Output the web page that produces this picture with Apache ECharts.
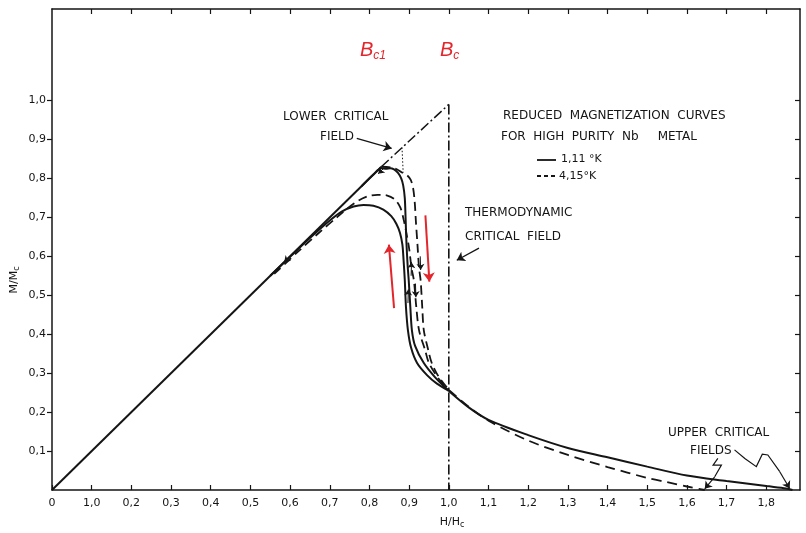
<!DOCTYPE html>
<html><head><meta charset="utf-8">
<script src="https://cdn.jsdelivr.net/npm/echarts@6/dist/echarts.min.js"></script>
<style>html,body{margin:0;padding:0;background:#fff}#c{width:806px;height:533px}</style>
</head><body><div id="c"></div>
<script>
// ---- tick values / labels ----
const xTickValues = [0,0.1,0.2,0.3,0.4,0.5,0.6,0.7,0.8,0.9,1.0,1.1,1.2,1.3,1.4,1.5,1.6,1.7,1.8];
const xTickLabels = ['0','1,0','0,2','0,3','0,4','0,5','0,6','0,7','0,8','0,9','1,0','1,1','1,2','1,3','1,4','1,5','1,6','1,7','1,8'];
const yTickValues = [0.1,0.2,0.3,0.4,0.5,0.6,0.7,0.8,0.9,1.0];
const yTickLabels = ['0,1','0,2','0,3','0,4','0,5','0,6','0,7','0,8','0,9','1,0'];

// ---- Meissner line M = H (solid part) ----
const diagonal = [[0,0],[0.83,0.83]];
// ---- curves: 1.11 K (solid) ----
const solidOuter = [[0.78,0.78],[0.81,0.81],[0.83,0.826],[0.842,0.825],[0.852,0.826],[0.862,0.823],[0.872,0.814],[0.88,0.8],[0.885,0.782],[0.889,0.75],[0.891,0.7],[0.893,0.64],[0.896,0.58],[0.899,0.538],[0.903,0.47],[0.907,0.41],[0.915,0.37],[0.937,0.326],[0.965,0.29],[1.0,0.254]];
const solidInner = [[0.55,0.55],[0.6,0.599],[0.65,0.647],[0.7,0.692],[0.73,0.715],[0.76,0.728],[0.785,0.732],[0.81,0.73],[0.835,0.72],[0.855,0.703],[0.868,0.683],[0.877,0.66],[0.883,0.63],[0.886,0.59],[0.889,0.54],[0.892,0.47],[0.897,0.41],[0.905,0.365],[0.92,0.326],[0.945,0.295],[0.97,0.273],[1.0,0.255]];
const solidTail = [[1.0,0.254],[1.05,0.212],[1.1,0.18],[1.2,0.141],[1.3,0.108],[1.4,0.084],[1.5,0.06],[1.6,0.037],[1.7,0.023],[1.8,0.01],[1.85,0.004],[1.866,0]];
// ---- curves: 4.15 K (dashed) ----
const dashedOuter = [[0.83,0.83],[0.855,0.828],[0.87,0.823],[0.882,0.815],[0.895,0.808],[0.904,0.796],[0.91,0.775],[0.914,0.74],[0.917,0.69],[0.921,0.63],[0.925,0.57],[0.929,0.538],[0.933,0.47],[0.937,0.41],[0.948,0.36],[0.957,0.326],[0.975,0.29],[1.0,0.257]];
const dashedInner = [[0.56,0.555],[0.62,0.612],[0.67,0.658],[0.72,0.702],[0.76,0.735],[0.79,0.752],[0.82,0.758],[0.845,0.756],[0.865,0.745],[0.878,0.725],[0.886,0.695],[0.893,0.66],[0.9,0.62],[0.906,0.57],[0.912,0.538],[0.918,0.47],[0.925,0.41],[0.94,0.36],[0.95,0.326],[0.975,0.285],[1.0,0.256]];
const dashedTail = [[1.0,0.257],[1.05,0.214],[1.1,0.178],[1.2,0.127],[1.3,0.09],[1.4,0.059],[1.5,0.031],[1.55,0.02],[1.6,0.009],[1.645,0]];
// ---- reference lines ----
const diagonalExt = [[0.83,0.83],[1.0,0.99]];
const thermoLine = [[1.0,0.99],[1.0,0]];
const lowerCritDotted = [[0.882,0.88],[0.885,0.815]];
// ---- annotation arrows (data coords) ----
const arrowLower = [[0.768,0.903],[0.856,0.877]];
const arrowThermo = [[1.076,0.621],[1.02,0.59]];
const arrowUpperA = [[1.72,0.103],[1.746,0.081],[1.775,0.06],[1.79,0.092],[1.804,0.09],[1.834,0.047],[1.859,0.004]];
const arrowUpperB = [[1.678,0.081],[1.666,0.064],[1.687,0.064],[1.67,0.034],[1.645,0.003]];
const redUp = [[0.862,0.467],[0.849,0.63]];
const redDown = [[0.941,0.705],[0.951,0.535]];
// small direction arrow heads sitting on the curves
const curveArrows = [
  [[0.6,0.6],[0.585,0.585]],
  [[0.835,0.825],[0.822,0.812]],
  [[0.905,0.55],[0.906,0.585]],
  [[0.897,0.48],[0.898,0.515]],
  [[0.928,0.6],[0.929,0.565]],
  [[0.916,0.53],[0.917,0.495]]
];

const FONT = 'DejaVu Sans';
const INK = '#151515';
const RED = '#e3262b';

function line(data, type, width, extra) {
  return Object.assign({type:'line', data:data, showSymbol:false, symbol:'none', smooth:0.3, animation:false,
    lineStyle:{color:INK, width:width, type:type}, z:3}, extra||{});
}
// polyline body + straight last segment carrying the arrow head
function arrow(coords, color, width, size) {
  const out = [];
  if (coords.length > 2) {
    out.push({type:'lines', coordinateSystem:'cartesian2d', polyline:true, animation:false,
      symbol:'none', lineStyle:{color:color, width:width, opacity:1, curveness:0},
      data:[{coords:coords.slice(0, coords.length-1)}], z:4});
  }
  out.push({type:'lines', coordinateSystem:'cartesian2d', polyline:false, animation:false,
    symbol:['none','arrow'], symbolSize:size,
    lineStyle:{color:color, width:width, opacity:1, curveness:0},
    data:[{coords:coords.slice(-2)}], z:4});
  return out;
}

const chart = echarts.init(document.getElementById('c'));
const axisLineStyle = {color:INK, width:1.5};
const txt = (x, y, s) => ({type:'text', x:x, y:y, style:{text:s, font:'12px '+FONT, fill:INK, textVerticalAlign:'middle'}});
chart.setOption({
  animation:false,
  backgroundColor:'#fff',
  grid:{left:52, right:6, top:9, bottom:43},
  xAxis:[
    {type:'value', min:0, max:1.885, position:'bottom',
     axisLine:{onZero:false, lineStyle:axisLineStyle},
     axisTick:{inside:true, length:5, customValues:xTickValues, lineStyle:{color:INK,width:1.2}},
     axisLabel:{customValues:xTickValues, formatter:v=>xTickLabels[Math.round(v*10)], margin:8, fontFamily:FONT, fontSize:11, color:INK},
     splitLine:{show:false}},
    {type:'value', min:0, max:1.885, position:'top',
     axisLine:{onZero:false, lineStyle:axisLineStyle},
     axisTick:{inside:true, length:5, customValues:xTickValues.slice(1), lineStyle:{color:INK,width:1.2}},
     axisLabel:{show:false}, splitLine:{show:false}}
  ],
  yAxis:[
    {type:'value', min:0, max:1.235, position:'left',
     axisLine:{onZero:false, lineStyle:axisLineStyle},
     axisTick:{inside:false, length:5, customValues:yTickValues, lineStyle:{color:INK,width:1.2}},
     axisLabel:{customValues:yTickValues, formatter:v=>yTickLabels[Math.round(v*10)-1], margin:6, fontFamily:FONT, fontSize:11, color:INK},
     splitLine:{show:false}},
    {type:'value', min:0, max:1.235, position:'right',
     axisLine:{onZero:false, lineStyle:axisLineStyle},
     axisTick:{inside:true, length:5, customValues:yTickValues, lineStyle:{color:INK,width:1.2}},
     axisLabel:{show:false}, splitLine:{show:false}}
  ],
  series:[
    line(diagonal,'solid',2,{smooth:false}),
    line(solidOuter,'solid',2),
    line(solidInner,'solid',2),
    line(solidTail,'solid',2),
    line(dashedOuter,[9,5],1.8),
    line(dashedInner,[9,5],1.8),
    line(dashedTail,[10,6],1.8),
    line(diagonalExt,[10,3,2,3],1.5,{smooth:false}),
    line(thermoLine,[10,3,2,3],1.6,{smooth:false}),
    line(lowerCritDotted,[1.5,2],1,{smooth:false}),
    ...arrow(arrowLower, INK, 1.3, 8),
    ...arrow(arrowThermo, INK, 1.3, 8),
    ...arrow(arrowUpperA, INK, 1.2, 7),
    ...arrow(arrowUpperB, INK, 1.2, 7),
    ...arrow(redUp, RED, 2, 9),
    ...arrow(redDown, RED, 2, 9),
    {type:'lines', coordinateSystem:'cartesian2d', animation:false, symbol:['none','arrow'], symbolSize:6,
     lineStyle:{color:INK, width:1, opacity:1, curveness:0}, data:curveArrows.map(c=>({coords:c})), z:5}
  ],
  graphic:[
    {type:'text', x:14, y:280, rotation:Math.PI/2, style:{text:'{a|M/M}{b|c}', textAlign:'center', textVerticalAlign:'middle',
      rich:{a:{fontFamily:FONT, fontSize:11, fill:INK}, b:{fontFamily:FONT, fontSize:8, fill:INK, verticalAlign:'bottom', padding:[6,0,0,0]}}}},
    {type:'text', x:452, y:522, style:{text:'{a|H/H}{b|c}', textAlign:'center', textVerticalAlign:'middle',
      rich:{a:{fontFamily:FONT, fontSize:11, fill:INK}, b:{fontFamily:FONT, fontSize:8, fill:INK, padding:[6,0,0,0]}}}},
    {type:'text', x:360, y:50, style:{text:'{a|B}{b|c1}', textVerticalAlign:'middle',
      rich:{a:{fontFamily:'Liberation Sans', fontStyle:'italic', fontSize:20, fill:RED}, b:{fontFamily:'Liberation Sans', fontStyle:'italic', fontSize:12, fill:RED, padding:[12,0,0,0]}}}},
    {type:'text', x:440, y:50, style:{text:'{a|B}{b|c}', textVerticalAlign:'middle',
      rich:{a:{fontFamily:'Liberation Sans', fontStyle:'italic', fontSize:20, fill:RED}, b:{fontFamily:'Liberation Sans', fontStyle:'italic', fontSize:12, fill:RED, padding:[12,0,0,0]}}}},
    txt(283, 117, 'LOWER  CRITICAL'),
    txt(320, 137, 'FIELD'),
    txt(503, 116, 'REDUCED  MAGNETIZATION  CURVES'),
    txt(501, 137, 'FOR  HIGH  PURITY  Nb     METAL'),
    {type:'line', shape:{x1:537, y1:160, x2:556, y2:160}, style:{stroke:INK, lineWidth:1.8}},
    {type:'text', x:561, y:159, style:{text:'1,11 °K', font:'11px '+FONT, fill:INK, textVerticalAlign:'middle'}},
    {type:'line', shape:{x1:537, y1:176, x2:556, y2:176}, style:{stroke:INK, lineWidth:1.8, lineDash:[4,3]}},
    {type:'text', x:559, y:176, style:{text:'4,15°K', font:'11px '+FONT, fill:INK, textVerticalAlign:'middle'}},
    txt(465, 213, 'THERMODYNAMIC'),
    txt(465, 237, 'CRITICAL  FIELD'),
    txt(668, 433, 'UPPER  CRITICAL'),
    txt(690, 451, 'FIELDS')
  ]
});
</script>
</body></html>
